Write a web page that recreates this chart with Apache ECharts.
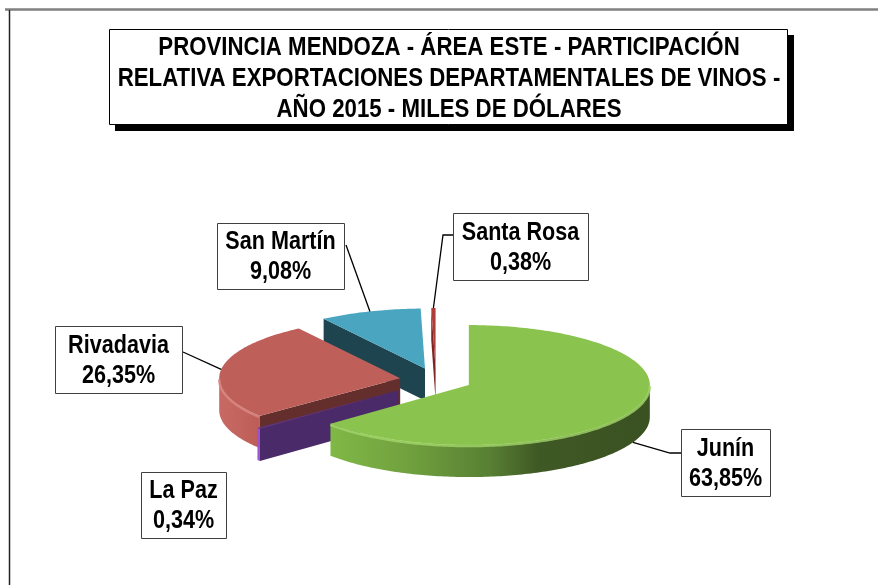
<!DOCTYPE html>
<html>
<head>
<meta charset="utf-8">
<title>Mendoza - Área Este - Exportaciones de vinos 2015</title>
<script src="https://cdn.jsdelivr.net/npm/echarts@6/dist/echarts.min.js"></script>
<style>
html, body { margin: 0; padding: 0; background: #fff; }
#chart { width: 878px; height: 585px; }
</style>
</head>
<body>
<div id="chart"></div>
<script>
"use strict";
var departamentos = ["Junín", "La Paz", "Rivadavia", "San Martín", "Santa Rosa"];
var participacion = [63.85, 0.34, 26.35, 9.08, 0.38];
var tituloLineas = [
    "PROVINCIA MENDOZA - ÁREA ESTE - PARTICIPACIÓN",
    "RELATIVA EXPORTACIONES DEPARTAMENTALES DE VINOS -",
    "AÑO 2015 - MILES DE DÓLARES"
];

// no hay Arial Narrow: Liberation Sans comprimida en horizontal
var FUENTE = '"Liberation Sans", Arial, sans-serif';

// torta 3D: centro, radios de la elipse y alto del lateral
var CX = 436, CY = 380, RX = 181, RY = 60, ALTO = 32;

// separación de cada porción (fracción del radio)
var separacion = [0.2, 0.27, 0.2, 0.2, 0.2];

// colores: cara superior, lateral, corte, borde claro
var colores = [
    {sup: "#8BC34F", lado: [[0, "#80B847"], [0.25, "#70A03E"], [0.5, "#587F33"], [0.65, "#3F5925"], [1, "#3A5121"]], corte: "#4E6E2C", brillo: "#A3D66A"},
    {sup: "#5E3585", lado: [[0, "#9A52CF"], [1, "#9A52CF"]], corte: "#4A2A68", brillo: null},
    {sup: "#BF5F5A", lado: [[0, "#C86A64"], [1, "#BD5D57"]], corte: "#632E2C", brillo: "#D98A84"},
    {sup: "#4AA5C0", lado: [[0, "#3A8CA4"], [1, "#3A8CA4"]], corte: "#1E4450", brillo: null},
    {sup: "#B03C38", lado: [[0, "#9A302C"], [1, "#9A302C"]], corte: "#7C2522", brillo: null}
];

// cajas de etiqueta [x, y, ancho, alto], codo de la línea guía y punto de anclaje
var etiquetas = [
    {caja: [681, 429, 89, 67], codo: [[670, 453], [681, 453]], ancla: "lado"},
    {caja: [141, 472, 85, 66], codo: null, ancla: null},
    {caja: [55, 326, 127, 67], codo: [[183, 352]], ancla: "sup"},
    {caja: [217, 223, 127, 66], codo: [[346, 245]], ancla: "sup"},
    {caja: [453, 213, 135, 67], codo: [[443, 235], [453, 235]], ancla: "sup"}
];

function punto(vx, vy, grados, dy) {
    var r = grados * Math.PI / 180;
    return [vx + RX * Math.sin(r), vy - RY * Math.cos(r) + (dy || 0)];
}

function arco(vx, vy, a0, a1, dy) {
    var n = Math.max(2, Math.ceil(Math.abs(a1 - a0)));
    var pts = [];
    for (var k = 0; k <= n; k++) {
        pts.push(punto(vx, vy, a0 + (a1 - a0) * k / n, dy));
    }
    return pts;
}

var total = participacion.reduce(function (s, v) { return s + v; }, 0);
var geom = [];
var acc = 0;
participacion.forEach(function (v, i) {
    var a0 = acc / total * 360;
    acc += v;
    var a1 = acc / total * 360;
    var mid = (a0 + a1) / 2;
    var m = mid * Math.PI / 180;
    var vx = CX + RX * separacion[i] * Math.sin(m);
    var vy = CY - RY * separacion[i] * Math.cos(m);
    var clave = vy;
    arco(vx, vy, a0, a1, 0).forEach(function (p) { clave = Math.max(clave, p[1]); });
    geom.push({a0: a0, a1: a1, mid: mid, vx: vx, vy: vy, clave: clave});
});
geom.slice().sort(function (a, b) { return a.clave - b.clave; })
    .forEach(function (g, k) { g.orden = k; });

function formato(v) {
    return v.toFixed(2).replace(".", ",") + "%";
}

function renderItem(params, api) {
    var i = params.dataIndex;
    var g = geom[i];
    var c = colores[i];
    var z = g.orden * 10;
    var hijos = [];

    // caras de corte visibles
    [[g.a0, -90], [g.a1, 90]].forEach(function (par) {
        var n = (par[0] + par[1]) * Math.PI / 180;
        if (Math.cos(n) < -0.001) {
            var p = punto(g.vx, g.vy, par[0], 0);
            hijos.push({
                type: "polygon", z2: z + 1,
                shape: {points: [[g.vx, g.vy], p, [p[0], p[1] + ALTO], [g.vx, g.vy + ALTO]]},
                style: {fill: c.corte}
            });
        }
    });

    // lateral frontal
    var l0 = Math.max(g.a0, 90), l1 = Math.min(g.a1, 270);
    if (l1 > l0) {
        var arriba = arco(g.vx, g.vy, l0, l1, 0);
        var abajo = arco(g.vx, g.vy, l0, l1, ALTO).reverse();
        hijos.push({
            type: "polygon", z2: z + 3,
            shape: {points: arriba.concat(abajo)},
            style: {fill: new echarts.graphic.LinearGradient(0, 0, 1, 0, c.lado.map(function (s) {
                return {offset: s[0], color: s[1]};
            }))}
        });
    }

    // cara superior
    hijos.push({
        type: "polygon", z2: z + 4,
        shape: {points: [[g.vx, g.vy]].concat(arco(g.vx, g.vy, g.a0, g.a1, 0))},
        style: {fill: c.sup}
    });
    // borde claro del canto
    if (c.brillo && l1 > l0) {
        hijos.push({
            type: "polyline", z2: z + 5,
            shape: {points: arco(g.vx, g.vy, l0, l1, 1)},
            style: {stroke: c.brillo, lineWidth: 2.5, fill: null, opacity: 0.8}
        });
    }

    // etiqueta
    var e = etiquetas[i];
    if (e.codo) {
        var a = punto(g.vx, g.vy, g.mid, e.ancla === "lado" ? ALTO : 0);
        hijos.push({
            type: "polyline", z2: 100,
            shape: {points: [a].concat(e.codo)},
            style: {stroke: "#000", lineWidth: 1.3, fill: null}
        });
    }
    hijos.push({
        type: "rect", z2: 101,
        shape: {x: e.caja[0] + 0.5, y: e.caja[1] + 0.5, width: e.caja[2], height: e.caja[3]},
        style: {fill: "#fff", stroke: "#404040", lineWidth: 1}
    });
    hijos.push({
        type: "text", z2: 102,
        x: e.caja[0] + e.caja[2] / 2,
        y: e.caja[1] + e.caja[3] / 2 + 1,
        scaleX: 0.83,
        style: {
            text: departamentos[i] + "\n" + formato(api.value(0)),
            x: 0, y: 0,
            align: "center", verticalAlign: "middle",
            lineHeight: 30,
            font: "bold 26px " + FUENTE,
            fill: "#000"
        }
    });
    return {type: "group", children: hijos};
}

var chart = echarts.init(document.getElementById("chart"));
chart.setOption({
    animation: false,
    backgroundColor: "#fff",
    graphic: {elements: [
        {type: "line", shape: {x1: 5, y1: 9.5, x2: 878, y2: 9.5}, style: {stroke: "#808080", lineWidth: 2.5}},
        {type: "line", shape: {x1: 9.5, y1: 10, x2: 9.5, y2: 585}, style: {stroke: "#222", lineWidth: 1.5}},
        {type: "rect", shape: {x: 115, y: 35, width: 679, height: 96}, style: {fill: "#000"}},
        {type: "rect", shape: {x: 109.5, y: 29.5, width: 678, height: 95},
            style: {fill: "#fff", stroke: "#000", lineWidth: 1}},
        {type: "text", x: 449, y: 79, scaleX: 0.89, style: {
            text: tituloLineas.join("\n"), x: 0, y: 0,
            align: "center", verticalAlign: "middle", lineHeight: 30.7,
            font: "bold 25px " + FUENTE, fill: "#000"
        }}
    ]},
    series: [{
        type: "custom",
        coordinateSystem: "none",
        silent: true,
        data: participacion,
        renderItem: renderItem
    }]
});
</script>
</body>
</html>
